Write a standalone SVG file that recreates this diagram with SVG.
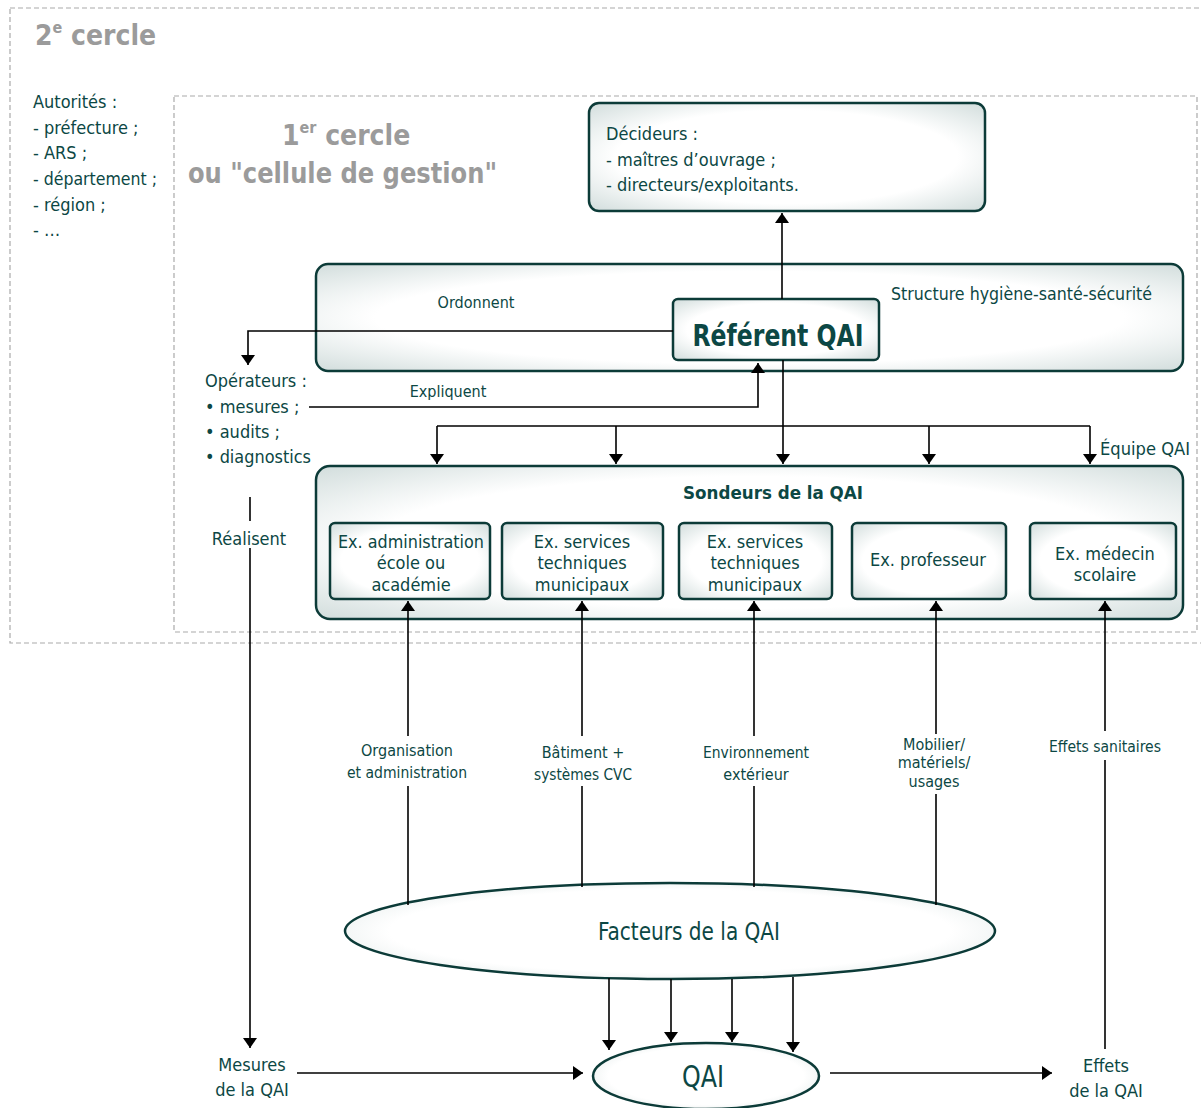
<svg xmlns="http://www.w3.org/2000/svg" width="1201" height="1108" viewBox="0 0 1201 1108">
<defs>
<radialGradient id="g" cx="0.5" cy="0.5" r="0.72">
<stop offset="0.6" stop-color="#ffffff"/>
<stop offset="1" stop-color="#cfdbda"/>
</radialGradient>
<marker id="a" markerWidth="10" markerHeight="14" refX="10" refY="7" orient="auto" markerUnits="userSpaceOnUse">
<path d="M0,0 L10,7 L0,14 Z" fill="#000"/>
</marker>
<style>
text{font-family:"DejaVu Sans Condensed","DejaVu Sans","Liberation Sans",sans-serif;font-stretch:condensed;fill:#0c4744;font-size:18px}
.t{text-anchor:middle}
.gr{fill:#9b9b9b;font-weight:bold;font-size:28px}
.sup{font-size:16px}
.box{fill:url(#g);stroke:#0c3b38;stroke-width:2.5}
.dash{fill:none;stroke:#aaaaaa;stroke-width:1.2;stroke-dasharray:5 3}
.c{fill:none;stroke:#000;stroke-width:1.6}
.ar{marker-end:url(#a)}
.s{font-size:16px}
.big{font-size:30px;font-weight:bold}
.b{font-weight:bold}
.f{font-size:24px}
.q{font-size:31px}
</style>
</defs>
<g id="circle2">
<rect class="dash" x="10" y="8" width="1200" height="635"/>
<text class="gr" x="35" y="45">2<tspan class="sup" dy="-12">e</tspan><tspan dy="12"> cercle</tspan></text>
<text x="33" y="108">Autorités :</text>
<text x="33" y="134">- préfecture ;</text>
<text x="33" y="159">- ARS ;</text>
<text x="33" y="185" textLength="124" lengthAdjust="spacingAndGlyphs">- département ;</text>
<text x="33" y="211">- région ;</text>
<text x="33" y="236">- …</text>
</g>
<g id="circle1">
<rect class="dash" x="174" y="96" width="1023" height="536"/>
<text class="gr" x="282" y="145">1<tspan class="sup" dy="-12">er</tspan><tspan dy="12"> cercle</tspan></text>
<text class="gr" x="188" y="183" textLength="309" lengthAdjust="spacingAndGlyphs">ou "cellule de gestion"</text>
</g>
<g id="decideurs">
<rect class="box" x="589" y="103" width="396" height="108" rx="10"/>
<text x="606" y="140">Décideurs :</text>
<text x="606" y="166">- maîtres d’ouvrage ;</text>
<text x="606" y="191">- directeurs/exploitants.</text>
</g>
<g id="structure">
<rect class="box" x="316" y="264" width="867" height="107" rx="12"/>
<text x="891" y="300" textLength="261" lengthAdjust="spacingAndGlyphs">Structure hygiène-santé-sécurité</text>
</g>
<g id="referent">
<rect class="box" x="673" y="299" width="206" height="61" rx="5"/>
<text class="t big" x="778" y="346" textLength="171" lengthAdjust="spacingAndGlyphs">Référent QAI</text>
</g>
<g id="operateurs">
<text x="205" y="387">Opérateurs :</text>
<text x="205" y="413">• mesures ;</text>
<text x="205" y="438">• audits ;</text>
<text x="205" y="463" textLength="106" lengthAdjust="spacingAndGlyphs">• diagnostics</text>
</g>
<g id="sondeurs">
<rect class="box" x="316" y="466" width="867" height="153" rx="14"/>
<text class="t b" x="773" y="499" textLength="180" lengthAdjust="spacingAndGlyphs">Sondeurs de la QAI</text>
<text x="1100" y="455" textLength="90" lengthAdjust="spacingAndGlyphs">Équipe QAI</text>
</g>
<g id="n1">
<rect class="box" x="330" y="523" width="160" height="76" rx="5"/>
<text class="t" x="411" y="548" textLength="146" lengthAdjust="spacingAndGlyphs">Ex. administration</text>
<text class="t" x="411" y="569">école ou</text>
<text class="t" x="411" y="591">académie</text>
</g>
<g id="n2">
<rect class="box" x="502" y="523" width="161" height="76" rx="5"/>
<text class="t" x="582" y="548">Ex. services</text>
<text class="t" x="582" y="569">techniques</text>
<text class="t" x="582" y="591">municipaux</text>
</g>
<g id="n3">
<rect class="box" x="679" y="523" width="153" height="76" rx="5"/>
<text class="t" x="755" y="548">Ex. services</text>
<text class="t" x="755" y="569">techniques</text>
<text class="t" x="755" y="591">municipaux</text>
</g>
<g id="n4">
<rect class="box" x="852" y="523" width="154" height="76" rx="5"/>
<text class="t" x="928" y="566">Ex. professeur</text>
</g>
<g id="n5">
<rect class="box" x="1030" y="523" width="146" height="76" rx="5"/>
<text class="t" x="1105" y="560">Ex. médecin</text>
<text class="t" x="1105" y="581">scolaire</text>
</g>
<g id="facteurs">
<ellipse class="box" cx="670" cy="931" rx="325" ry="48"/>
<text class="t f" x="689" y="940" textLength="182" lengthAdjust="spacingAndGlyphs">Facteurs de la QAI</text>
</g>
<g id="qai">
<ellipse class="box" cx="706" cy="1076" rx="113" ry="33"/>
<text class="t q" x="703" y="1087" textLength="42" lengthAdjust="spacingAndGlyphs">QAI</text>
</g>
<g id="mesures">
<text class="t" x="252" y="1071">Mesures</text>
<text class="t" x="252" y="1096">de la QAI</text>
</g>
<g id="effets">
<text class="t" x="1106" y="1072">Effets</text>
<text class="t" x="1106" y="1097">de la QAI</text>
</g>
<g id="connectors">
<path class="c ar" d="M782,299 V213"/>
<path class="c ar" d="M673,331 H248 V365"/>
<path class="c ar" d="M309,407 H758 V363"/>
<path class="c ar" d="M783,360 V464"/>
<path class="c" d="M437,426 H1090"/>
<path class="c ar" d="M437,426 V464"/>
<path class="c ar" d="M616,426 V464"/>
<path class="c ar" d="M929,426 V464"/>
<path class="c ar" d="M1090,426 V464"/>
<path class="c" d="M250,497 V521"/>
<path class="c ar" d="M250,548 V1048"/>
<path class="c ar" d="M408,736 V601"/>
<path class="c" d="M408,786 V905"/>
<path class="c ar" d="M582,736 V601"/>
<path class="c" d="M582,786 V887"/>
<path class="c ar" d="M754,736 V601"/>
<path class="c" d="M754,786 V887"/>
<path class="c ar" d="M936,734 V601"/>
<path class="c" d="M936,794 V905"/>
<path class="c ar" d="M1105,731 V601"/>
<path class="c" d="M1105,760 V1049"/>
<path class="c ar" d="M609,978 V1050"/>
<path class="c ar" d="M671,979 V1042"/>
<path class="c ar" d="M732,979 V1042"/>
<path class="c ar" d="M793,977 V1052"/>
<path class="c ar" d="M297,1073 H583"/>
<path class="c ar" d="M830,1073 H1052"/>
</g>
<g id="labels">
<text class="t s" x="476" y="308">Ordonnent</text>
<text class="t s" x="448" y="397">Expliquent</text>
<text class="t" x="249" y="545">Réalisent</text>
<text class="t s" x="407" y="756">Organisation</text>
<text class="t s" x="407" y="778" textLength="120" lengthAdjust="spacingAndGlyphs">et administration</text>
<text class="t s" x="583" y="758">Bâtiment +</text>
<text class="t s" x="583" y="780" textLength="98" lengthAdjust="spacingAndGlyphs">systèmes CVC</text>
<text class="t s" x="756" y="758" textLength="106" lengthAdjust="spacingAndGlyphs">Environnement</text>
<text class="t s" x="756" y="780">extérieur</text>
<text class="t s" x="934" y="750">Mobilier/</text>
<text class="t s" x="934" y="768">matériels/</text>
<text class="t s" x="934" y="787">usages</text>
<text class="t s" x="1105" y="752" textLength="112" lengthAdjust="spacingAndGlyphs">Effets sanitaires</text>
</g>
</svg>
